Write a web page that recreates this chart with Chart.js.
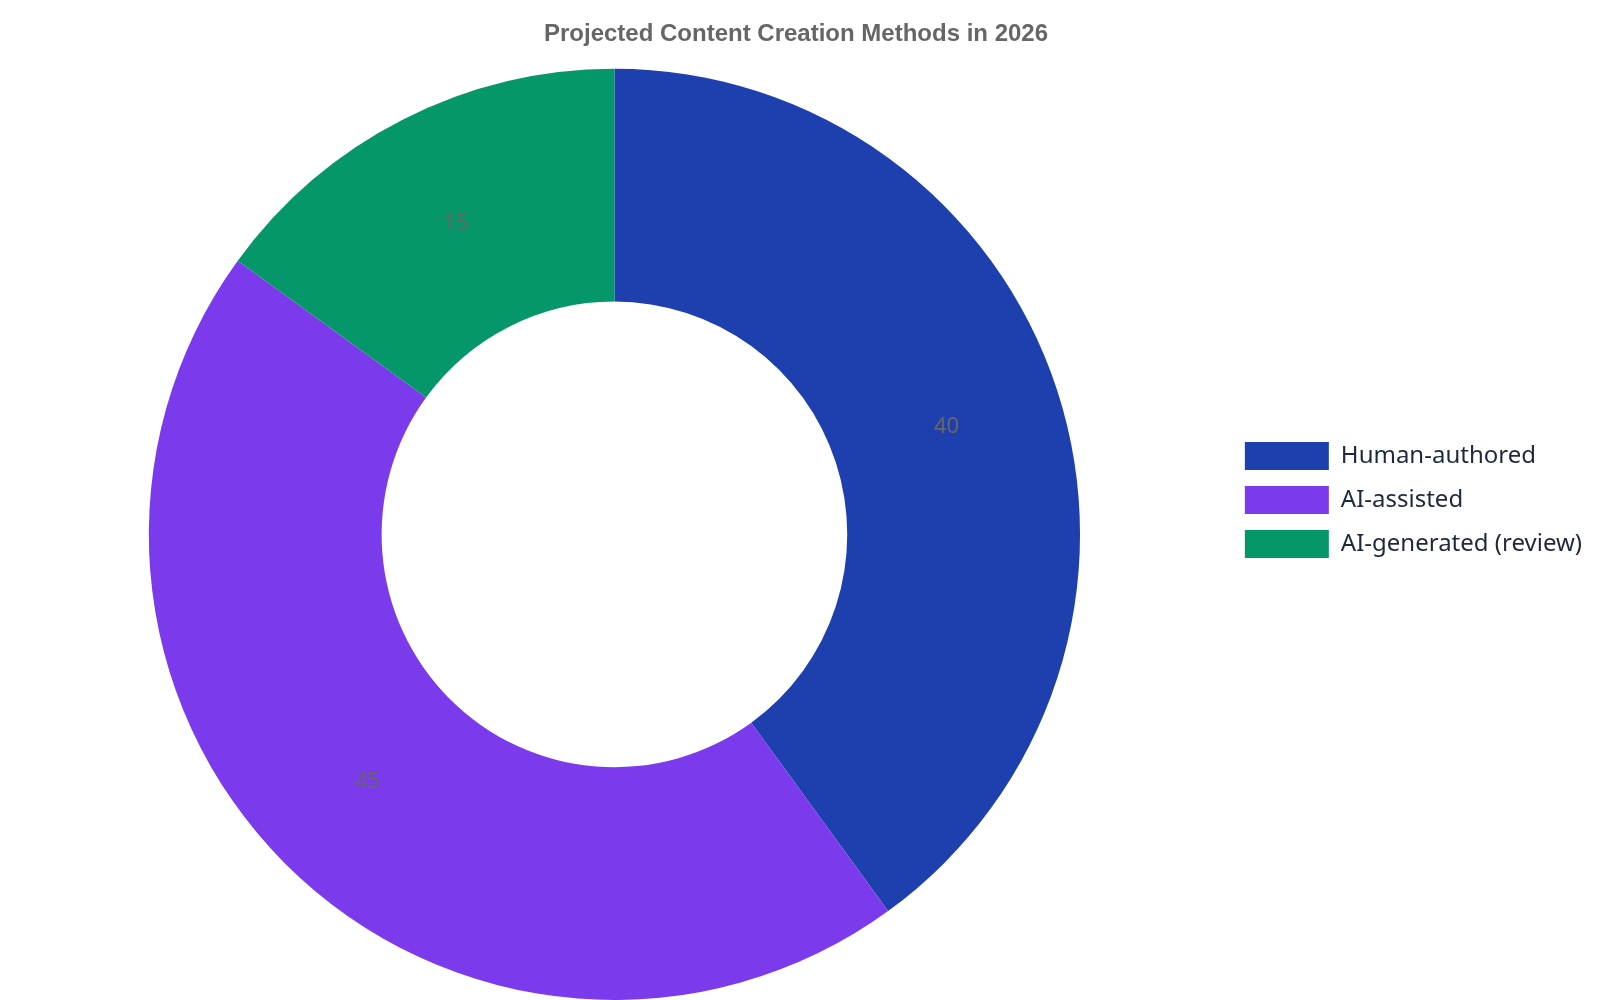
<!DOCTYPE html>
<html>
<head>
<meta charset="utf-8">
<title>Projected Content Creation Methods in 2026</title>
<script src="https://cdn.jsdelivr.net/npm/chart.js@4.4.1/dist/chart.umd.min.js"></script>
<style>
  html, body { margin: 0; padding: 0; background: #fff; }
  #wrap { width: 1600px; height: 1000px; position: relative; }
</style>
</head>
<body>
<div id="wrap"><canvas id="chart"></canvas></div>
<script>
const categories = ['Human-authored', 'AI-assisted', 'AI-generated (review)'];
const shares = [40, 45, 15];
const sliceColors = ['#1e40af', '#7c3aed', '#059669'];

// draws each value at the middle of its slice
const sliceLabels = {
  id: 'sliceLabels',
  afterDatasetsDraw(chart) {
    const ctx = chart.ctx;
    const meta = chart.getDatasetMeta(0);
    ctx.save();
    ctx.font = '22px "Noto Sans", sans-serif';
    ctx.fillStyle = '#666666';
    ctx.textAlign = 'center';
    ctx.textBaseline = 'middle';
    meta.data.forEach((arc, i) => {
      const p = arc.getCenterPoint();
      ctx.fillText(String(chart.data.datasets[0].data[i]), p.x, p.y);
    });
    ctx.restore();
  }
};

const ctx = document.getElementById('chart').getContext('2d');
const chart = new Chart(ctx, {
  type: 'doughnut',
  data: {
    labels: categories,
    datasets: [{
      data: shares,
      backgroundColor: sliceColors,
      borderWidth: 0
    }]
  },
  options: {
    responsive: true,
    maintainAspectRatio: false,
    animation: false,
    cutout: '50%',
    layout: { padding: { right: 8 } },
    plugins: {
      title: {
        display: true,
        text: 'Projected Content Creation Methods in 2026',
        color: '#666666',
        font: { size: 24, weight: 'bold' },
        padding: { top: 20, bottom: 20 }
      },
      legend: {
        position: 'right',
        labels: {
          font: { family: '"Noto Sans", sans-serif', size: 24 },
          color: '#1e293b',
          boxWidth: 84,
          boxHeight: 28,
          padding: 16
        }
      },
      tooltip: { enabled: false }
    }
  },
  plugins: [sliceLabels]
});
</script>
</body>
</html>
